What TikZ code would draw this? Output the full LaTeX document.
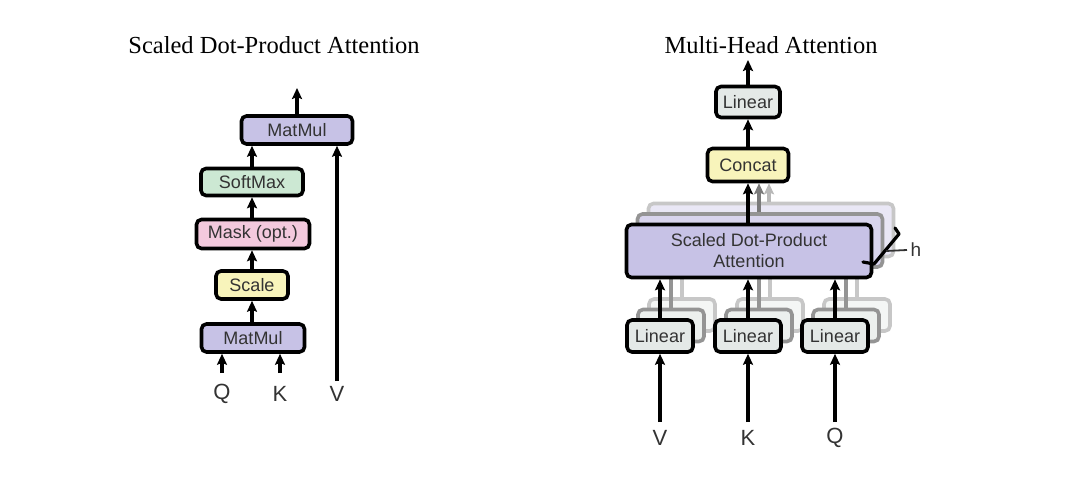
\documentclass[tikz,border=0pt]{standalone}
\usepackage{fontspec}
\setmainfont{Liberation Serif}
\setsansfont{Liberation Sans}
\usepackage{tikz}
\usetikzlibrary{calc, arrows.meta, positioning}
\definecolor{attnPurple}{RGB}{199,194,230}
\definecolor{softGreen}{RGB}{204,232,211}
\definecolor{maskPink}{RGB}{243,201,221}
\definecolor{scaleYellow}{RGB}{248,244,187}
\definecolor{linGray}{RGB}{228,233,231}
\definecolor{boxText}{gray}{0.2}

\begin{document}
\begin{tikzpicture}[x=1pt, y=-1pt, >=Stealth,
    box/.style={draw=black, line width=3.6pt, rounded corners=5pt, inner sep=0pt,
        align=center, text=boxText, font=\sffamily\fontsize{18}{21}\selectfont},
    arr/.style={-{Stealth[length=11pt, width=10pt, inset=2pt]}, line width=3.2pt},
    inlabel/.style={text=boxText, font=\sffamily\fontsize{22}{24}\selectfont},
    title/.style={font=\fontsize{24.5}{28}\selectfont}]
    \useasboundingbox (0,0) rectangle (1080,489);

    % Scaled Dot-Product Attention
    \node[title] (titleL) at (274,45) {Scaled Dot-Product Attention};
    \node[box, fill=attnPurple, minimum width=111, minimum height=28] (mmTop) at (297,130) {MatMul};
    \node[box, fill=softGreen, minimum width=102, minimum height=27] (softmax) at (252,182) {SoftMax};
    \node[box, fill=maskPink, minimum width=113, minimum height=29] (mask) at (253,234) {Mask (opt.)};
    \node[box, fill=scaleYellow, minimum width=72, minimum height=28] (scale) at (252,285) {Scale};
    \node[box, fill=attnPurple, minimum width=103, minimum height=28] (mmBot) at (253,338) {MatMul};

    \coordinate (outL) at (297,88);
    \coordinate (inQ) at (222,373);
    \coordinate (inK) at (280,373);
    \coordinate (inV) at (337,381);
    \node[inlabel] (labQ) at (222,394) {Q};
    \node[inlabel] (labK) at (280,394) {K};
    \node[inlabel] (labV) at (337,394) {V};

    \draw[arr] (mmTop.north) -- (outL);
    \draw[arr] (softmax.north) -- (softmax.north |- mmTop.south);
    \draw[arr] (mask.north -| softmax.north) -- (softmax.south);
    \draw[arr] (scale.north) -- (scale.north |- mask.south);
    \draw[arr] (mmBot.north -| scale.north) -- (scale.south);
    \draw[arr, line width=4.2pt] (inQ) -- (inQ |- mmBot.south);
    \draw[arr, line width=4.2pt] (inK) -- (inK |- mmBot.south);
    \draw[arr] (inV) -- (inV |- mmTop.south);

    % Multi-Head Attention
    \node[title] (titleR) at (771,45) {Multi-Head Attention};

    % stacked heads behind
    \foreach \k/\dr/\fl in {2/22/40, 1/42/70} {
        \foreach \x [count=\j] in {660,748,835} {
            \node[box, draw=black!\dr, fill=linGray!\fl, minimum width=66, minimum height=32]
                (linC\j\k) at (\x+11*\k, 336-10.5*\k) {};
        }
        \node[box, draw=black!\dr, fill=attnPurple!\fl, minimum width=245, minimum height=53]
            (sdpaC\k) at (749+11*\k, 251-10.5*\k) {};
        \foreach \j in {1,2,3} {
            \draw[line width=3.2pt, black!\dr] (linC\j\k.north) -- (linC\j\k.north |- sdpaC\k.south);
        }
    }

    \node[box, fill=linGray, minimum width=64, minimum height=31] (linTop) at (748,102) {Linear};
    \node[box, fill=scaleYellow, minimum width=81, minimum height=33] (concat) at (748,165) {Concat};
    \node[box, fill=attnPurple, minimum width=245, minimum height=53] (sdpa) at (749,251)
        {Scaled Dot-Product\\Attention};
    \node[box, fill=linGray, minimum width=66, minimum height=32] (linV) at (660,336) {Linear};
    \node[box, fill=linGray, minimum width=66, minimum height=32] (linK) at (748,336) {Linear};
    \node[box, fill=linGray, minimum width=66, minimum height=32] (linQ) at (835,336) {Linear};

    \coordinate (outR) at (748,60);
    \coordinate (inRV) at (660,422);
    \coordinate (inRK) at (748,422);
    \coordinate (inRQ) at (835,422);
    \node[inlabel] (labRV) at (660,438) {V};
    \node[inlabel] (labRK) at (748,438) {K};
    \node[inlabel] (labRQ) at (835,438) {Q};

    \draw[arr] (linTop.north) -- (outR);
    \draw[arr] (concat.north) -- (linTop.south);
    \draw[arr] (sdpa.north -| concat.north) -- (concat.south);
    \draw[arr, black!28] (sdpaC2.north -| 769,0) -- (769,0 |- concat.south);
    \draw[arr, black!52] (sdpaC1.north -| 759,0) -- (759,0 |- concat.south);
    \draw[arr] (linV.north) -- (linV.north |- sdpa.south);
    \draw[arr] (linK.north) -- (linK.north |- sdpa.south);
    \draw[arr] (linQ.north) -- (linQ.north |- sdpa.south);
    \draw[arr] (inRV) -- (linV.south);
    \draw[arr] (inRK) -- (linK.south);
    \draw[arr] (inRQ) -- (linQ.south);

    % h brace
    \coordinate (hA) at (895,228);
    \coordinate (hB) at (899,234);
    \coordinate (hC) at (874,264);
    \coordinate (hD) at (863,262);
    \coordinate (hTick) at (886,251);
    \draw[line width=3.2pt, line cap=round, line join=round] (hA) -- (hB) -- (hC) -- (hD);
    \node[inlabel, font=\sffamily\fontsize{19}{21}\selectfont, anchor=west] (labH) at (907,250) {h};
    \draw[line width=1.8pt, boxText] (hTick) -- (labH.west);
\end{tikzpicture}
\end{document}
